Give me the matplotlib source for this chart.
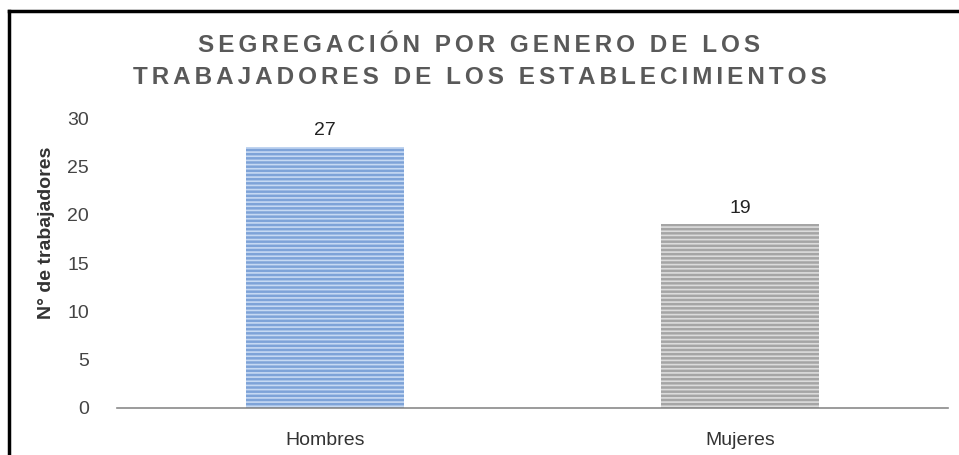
import matplotlib.pyplot as plt
from matplotlib.lines import Line2D

categorias = ["Hombres", "Mujeres"]
trabajadores = [27, 19]
colores = ["#7ea3d8", "#a5a5a5"]
rayas = ["#c6d9f3", "#dcdcdc"]
yticks = [0, 5, 10, 15, 20, 25, 30]

plt.rcParams['font.family'] = ['Liberation Sans', 'DejaVu Sans']
plt.rcParams['hatch.linewidth'] = 1.2

fig = plt.figure(figsize=(9.59, 4.55), dpi=100)
ax = fig.add_axes([117/959, 1-408/455, (948-117)/959, 290/455])

x = range(len(categorias))
ax.bar(x, trabajadores, width=0.38, color=colores, linewidth=0)
ax.bar(x, trabajadores, width=0.38, facecolor="none", edgecolor=rayas,
       hatch="----", linewidth=0)

for xi, v in zip(x, trabajadores):
    ax.text(xi, v + 0.8, str(v), ha="center", va="bottom", fontsize=14, color="#222222")

ax.set_xlim(-0.5, 1.5)
ax.set_ylim(0, 30)
ax.set_xticks(list(x))
ax.set_xticklabels(categorias, fontsize=14, color="#333333")
ax.set_yticks(yticks)
ax.tick_params(axis="y", labelsize=14, colors="#444444", length=0, pad=20)
ax.tick_params(axis="x", length=0, pad=17)
for s in ["top", "right", "left"]:
    ax.spines[s].set_visible(False)
ax.spines["bottom"].set_color("#8a8a8a")
ax.spines["bottom"].set_linewidth(1.2)

ax.set_ylabel("N° de trabajadores", fontsize=14, fontweight="bold", color="#333333", labelpad=10)
ax.yaxis.set_label_coords(-0.075, 0.605)

hs = "\u200a\u200a"
t1 = hs.join("SEGREGACIÓN POR GENERO DE LOS")
t2 = hs.join("TRABAJADORES DE LOS ESTABLECIMIENTOS")
fig.text(0.5, 1-46/455, t1, ha="center", va="center", fontsize=17.5, fontweight="bold", color="#595959")
fig.text(0.5, 1-77/455, t2, ha="center", va="center", fontsize=17.5, fontweight="bold", color="#595959")

# marco
fig.add_artist(Line2D([9/959, 9/959], [0, 1-11/455], transform=fig.transFigure, color="black", lw=2.5))
fig.add_artist(Line2D([9/959, 1], [1-11/455, 1-11/455], transform=fig.transFigure, color="black", lw=2.5))

fig.savefig("out.png", dpi=100)
